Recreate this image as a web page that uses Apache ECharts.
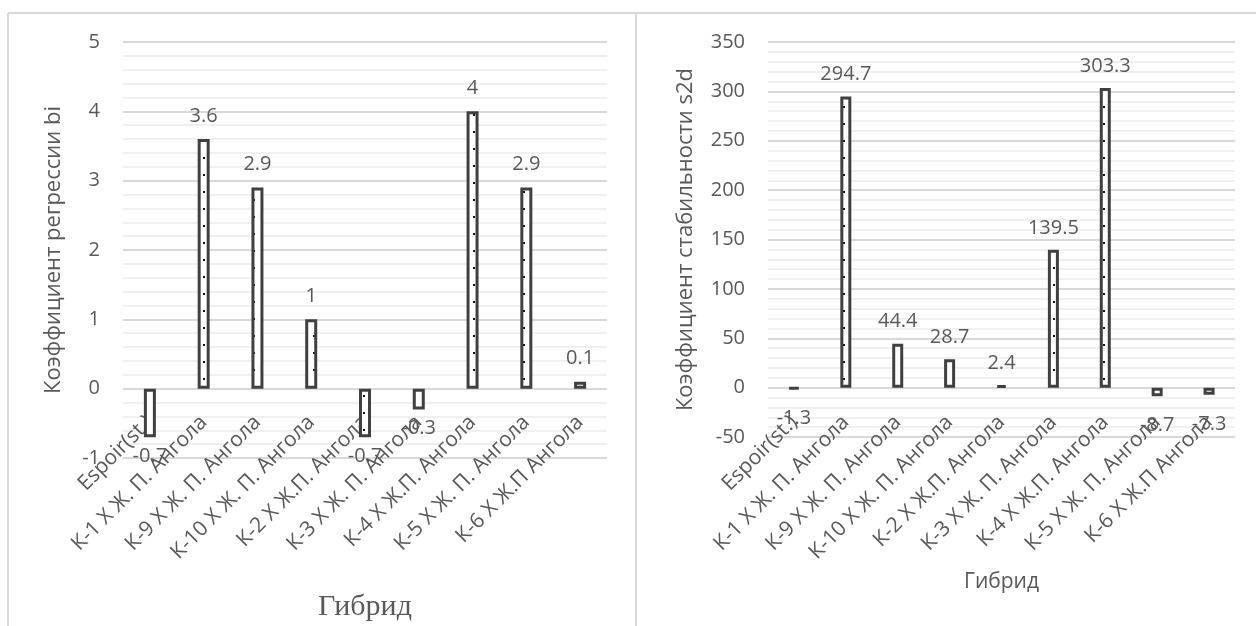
<!DOCTYPE html>
<html>
<head>
<meta charset="utf-8">
<script src="https://cdn.jsdelivr.net/npm/echarts@6/dist/echarts.min.js"></script>
<style>
  html, body { margin: 0; padding: 0; background: #ffffff; }
  #chart { width: 1256px; height: 626px; }
</style>
</head>
<body>
<div id="chart"></div>
<script>
// Hybrids compared in both panels
const categories = [
  'Espoir(st.)',
  'К-1 Х Ж. П. Ангола',
  'К-9 Х Ж. П. Ангола',
  'К-10 Х Ж. П. Ангола',
  'К-2 Х Ж.П. Ангола',
  'К-3 Х Ж. П. Ангола',
  'К-4 Х Ж.П. Ангола',
  'К-5 Х Ж. П. Ангола',
  'К-6 Х Ж.П Ангола'
];

// Regression coefficient bi per hybrid
const regressionBi = [-0.7, 3.6, 2.9, 1, -0.7, -0.3, 4, 2.9, 0.1];

// Stability coefficient s2d per hybrid
const stabilityS2d = [-1.3, 294.7, 44.4, 28.7, 2.4, 139.5, 303.3, -8.7, -7.3];

// Value-axis ranges
const biAxis = { min: -1, max: 5, step: 1 };
const s2dAxis = { min: -50, max: 350, step: 50 };

// Dotted fill for the bars
const tile = document.createElement('canvas');
tile.width = 20;
tile.height = 17;
const tc = tile.getContext('2d');
tc.fillStyle = '#ffffff';
tc.fillRect(0, 0, 20, 17);
tc.fillStyle = '#111111';
tc.fillRect(3, 4, 2, 2);
tc.fillRect(13, 12, 2, 2);

const TEXT = '#595959';
const FONT = 'Open Sans';

// Category labels sit just under the zero line, so they are pulled up
// from the bottom edge of the plot by a negative margin.
function catAxis(gridIndex, labelMargin, nameStyle, nameGap) {
  return {
    type: 'category',
    gridIndex: gridIndex,
    data: categories,
    name: 'Гибрид',
    nameLocation: 'middle',
    nameGap: nameGap,
    nameTextStyle: nameStyle,
    axisLine: { show: false, onZero: false },
    axisTick: { show: false },
    axisLabel: {
      interval: 0,
      rotate: 45,
      margin: labelMargin,
      fontSize: 21,
      fontFamily: FONT,
      color: TEXT
    },
    splitLine: { show: false }
  };
}

function valAxis(gridIndex, range, name, nameGap) {
  return {
    type: 'value',
    gridIndex: gridIndex,
    min: range.min,
    max: range.max,
    interval: range.step,
    name: name,
    nameLocation: 'middle',
    nameGap: nameGap,
    nameRotate: 90,
    nameTextStyle: { fontSize: 22, fontFamily: FONT, color: TEXT },
    axisLine: { show: false },
    axisTick: { show: false },
    axisLabel: { fontSize: 20, fontFamily: FONT, color: TEXT, margin: 23 },
    splitLine: { show: true, lineStyle: { color: '#d9d9d9', width: 2 } },
    minorTick: { show: false, splitNumber: 5 },
    minorSplitLine: { show: true, lineStyle: { color: '#f0f0f0', width: 2 } }
  };
}

// Value labels go above positive bars and below negative ones
function barSeries(idx, values, barWidth, upGap, downGap) {
  return {
    type: 'bar',
    xAxisIndex: idx,
    yAxisIndex: idx,
    data: values.map(v => ({
      value: v,
      label: v < 0 ? { position: 'bottom', distance: downGap } : { position: 'top', distance: upGap }
    })),
    barWidth: barWidth,
    itemStyle: {
      color: { image: tile, repeat: 'repeat' },
      borderColor: '#404040',
      borderWidth: 3
    },
    label: {
      show: true,
      fontSize: 20,
      fontFamily: FONT,
      color: TEXT
    },
    emphasis: { disabled: true },
    animation: false
  };
}

const frame = { stroke: '#d9d9d9', lineWidth: 2 };

const chart = echarts.init(document.getElementById('chart'), null, { renderer: 'canvas' });
chart.setOption({
  backgroundColor: '#ffffff',
  animation: false,
  grid: [
    { left: 123, right: 649, top: 42, bottom: 168, containLabel: false, outerBoundsMode: 'none' },
    { left: 768, right: 21, top: 42, bottom: 189, containLabel: false, outerBoundsMode: 'none' }
  ],
  xAxis: [
    catAxis(0, -39, { fontSize: 30, fontFamily: 'Liberation Serif', color: TEXT }, 134),
    catAxis(1, -18, { fontSize: 21, fontFamily: FONT, color: TEXT }, 135)
  ],
  yAxis: [
    valAxis(0, biAxis, 'Коэффициент регрессии bi', 58),
    valAxis(1, s2dAxis, 'Коэффициент стабильности s2d', 71)
  ],
  series: [
    barSeries(0, regressionBi, 12, 13, 9),
    barSeries(1, stabilityS2d, 11, 12, 19)
  ],
  graphic: [
    { type: 'line', shape: { x1: 8, y1: 13, x2: 1256, y2: 13 }, style: frame, silent: true },
    { type: 'line', shape: { x1: 8, y1: 13, x2: 8, y2: 626 }, style: frame, silent: true },
    { type: 'line', shape: { x1: 636, y1: 13, x2: 636, y2: 626 }, style: frame, silent: true }
  ]
});
</script>
</body>
</html>
